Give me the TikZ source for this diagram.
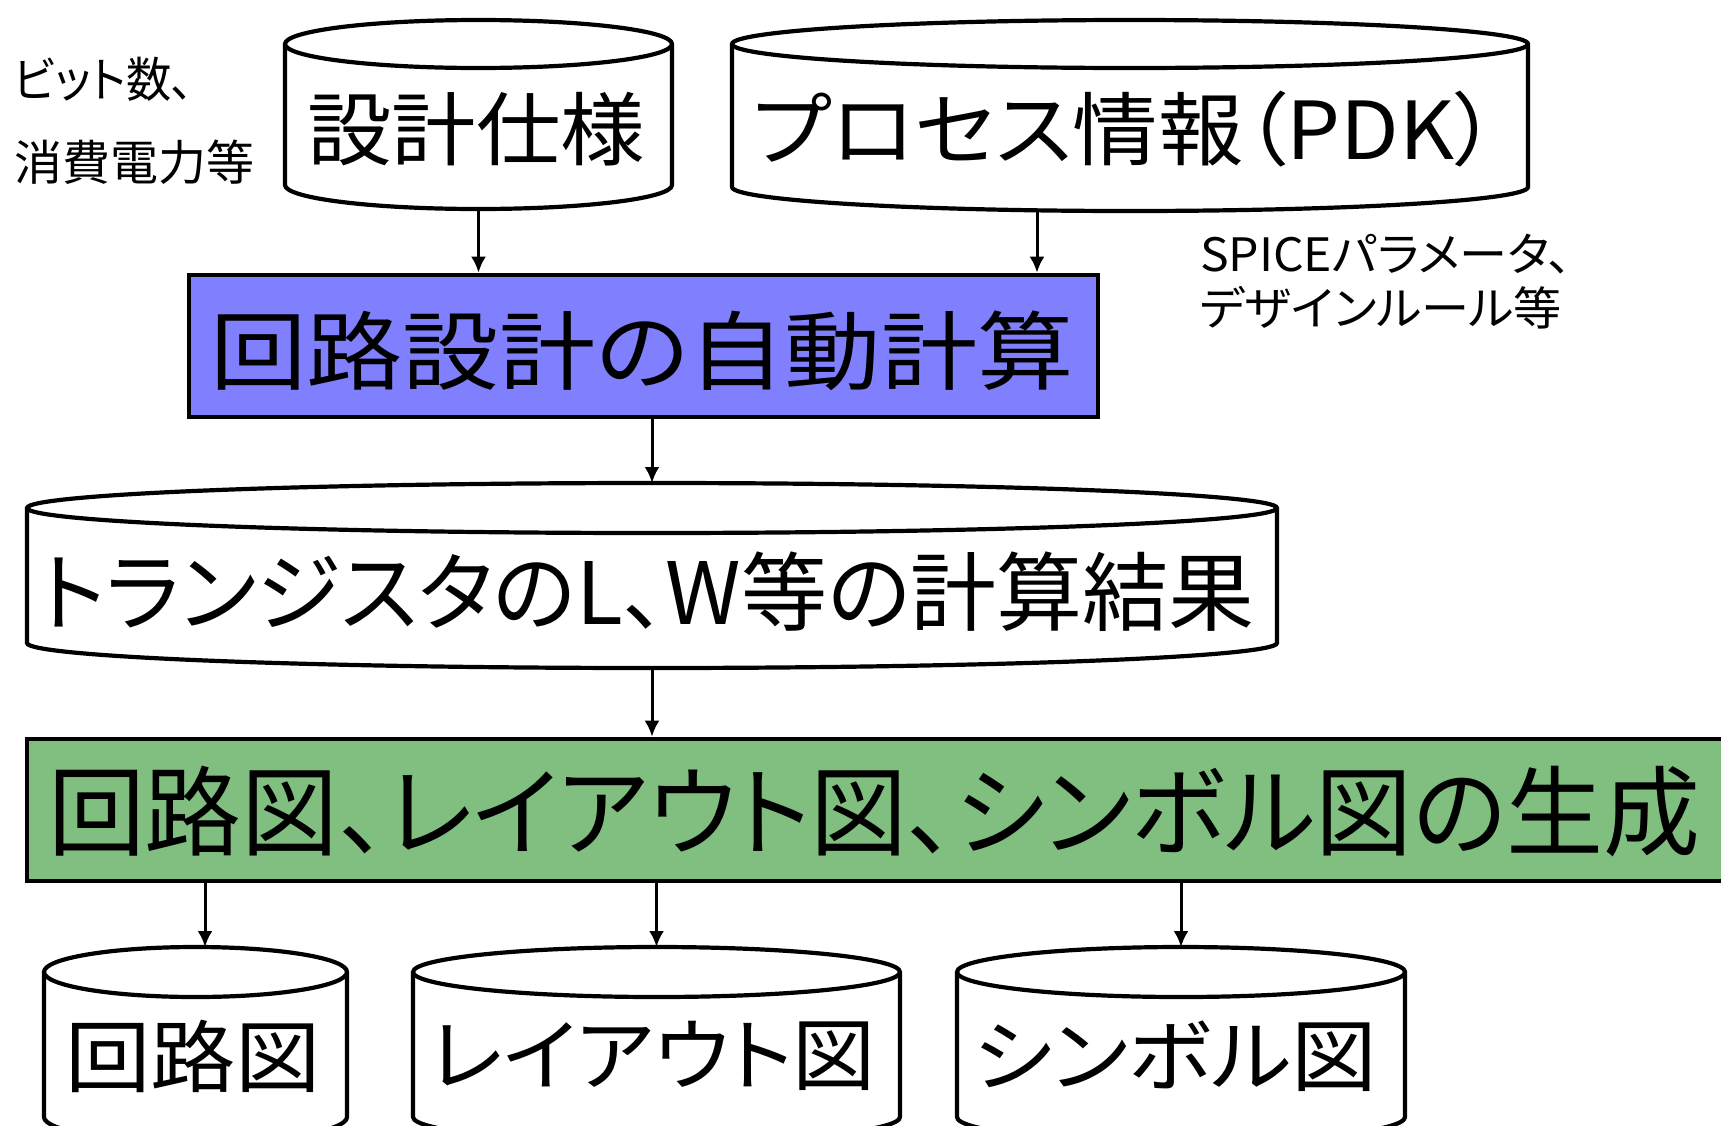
\documentclass[tikz,border=0pt]{standalone}
\usepackage{fontspec}
\newfontfamily\jp[RawFeature=+palt]{Noto Sans CJK JP}
\usetikzlibrary{arrows.meta}
\definecolor{bluefill}{RGB}{128,128,255}
\definecolor{greenfill}{RGB}{128,191,128}
\newcommand\fitto[3]{%
  \sbox0{\jp\fontsize{#2pt}{#2pt}\selectfont #3}%
  \pgfmathsetmacro\fsx{#1/\the\wd0}%
  \scalebox{\fsx}[1]{\usebox0}}
% name, x1, x2, ytop, ybot, ry
\newcommand\mycyl[6]{%
  \pgfmathsetmacro\cxa{(#2+#3)/2}%
  \pgfmathsetmacro\rxa{(#3-#2)/2}%
  \filldraw[cylline] (#2,#4+#6) -- (#2,#5-#6)
     arc[start angle=180,end angle=360,x radius=\rxa pt,y radius=#6pt]
     -- (#3,#4+#6)
     arc[start angle=0,end angle=180,x radius=\rxa pt,y radius=#6pt] -- cycle;
  \draw[cylline] (#2,#4+#6)
     arc[start angle=180,end angle=360,x radius=\rxa pt,y radius=#6pt];
  \pgfmathsetmacro\cya{(#4+#5)/2}%
  \pgfmathsetmacro\wa{#3-#2}%
  \pgfmathsetmacro\ha{#5-#4}%
  \node[inner sep=0pt,outer sep=0pt,minimum width=\wa pt,minimum height=\ha pt] (#1) at (\cxa,\cya) {};
}
\begin{document}
\begin{tikzpicture}[x=1pt,y=-1pt,
  cylline/.style={draw=black,fill=white,line width=4.2pt},
  txt/.style={inner sep=0pt,outer sep=0pt},
  procbox/.style={draw=black,line width=4.6pt,inner sep=0pt},
  arr/.style={line width=3pt,-{Latex[length=16pt,width=15pt]}}]
\useasboundingbox (0,0) rectangle (1721,1125);
\clip (0,0) rectangle (1721,1125);
\fill[white] (0,0) rectangle (1721,1125);

% top cylinders
\mycyl{cylA}{285}{672}{20}{209}{24}
\mycyl{cylB}{732}{1528}{20}{211}{24}
\node[txt] (tA) at (476,129) {\fitto{338}{80}{設計仕様}};
\node[txt] (tB) at (1125,129) {\fitto{744}{80}{プロセス情報（PDK）}};

% side notes
\node[txt,anchor=west] (n1) at (14,79) {\fitto{180}{48}{ビット数、}};
\node[txt,anchor=west] (n2) at (14,162) {\fitto{240}{48}{消費電力等}};
\node[txt,anchor=west] (n3) at (1200,254) {\fitto{372}{46}{SPICEパラメータ、}};
\node[txt,anchor=west] (n4) at (1200,308) {\fitto{362}{46}{デザインルール等}};

% blue process box
\node[procbox,fill=bluefill,minimum width=909pt,minimum height=142pt] (calc) at (643.5,346) {};
\node[txt] (tcalc) at (642,351) {\fitto{864}{86}{回路設計の自動計算}};

% result cylinder
\mycyl{cylC}{27}{1277}{483}{668}{25}
\node[txt] (tC) at (647,592) {\fitto{1215}{86}{トランジスタのL、W等の計算結果}};

% green generation box
\node[procbox,fill=greenfill,minimum width=1733pt,minimum height=142pt] (gen) at (893.5,810) {};
\node[txt] (tgen) at (874,812) {\fitto{1652}{98}{回路図、レイアウト図、シンボル図の生成}};

% bottom cylinders
\mycyl{cylD}{44}{347}{947}{1142}{25}
\mycyl{cylE}{413}{900}{947}{1142}{25}
\mycyl{cylF}{957}{1405}{947}{1142}{25}
\node[txt] (tD) at (193,1056) {\fitto{256}{79}{回路図}};
\node[txt] (tE) at (653,1056) {\fitto{446}{79}{レイアウト図}};
\node[txt] (tF) at (1175,1056) {\fitto{404}{79}{シンボル図}};

% connectors
\coordinate (pB) at (1037,0);
\coordinate (pD) at (205,0);
\draw[arr] (cylA.south) -- (cylA.south |- calc.north);
\draw[arr] (cylB.south -| pB) -- (pB |- calc.north);
\draw[arr] (cylC.north |- calc.south) -- (cylC.north);
\draw[arr] (cylC.south) -- (cylC.south |- gen.north);
\draw[arr] (gen.south -| pD) -- (pD |- cylD.north);
\draw[arr] (gen.south -| cylE.north) -- (cylE.north);
\draw[arr] (gen.south -| cylF.north) -- (cylF.north);
\end{tikzpicture}
\end{document}
